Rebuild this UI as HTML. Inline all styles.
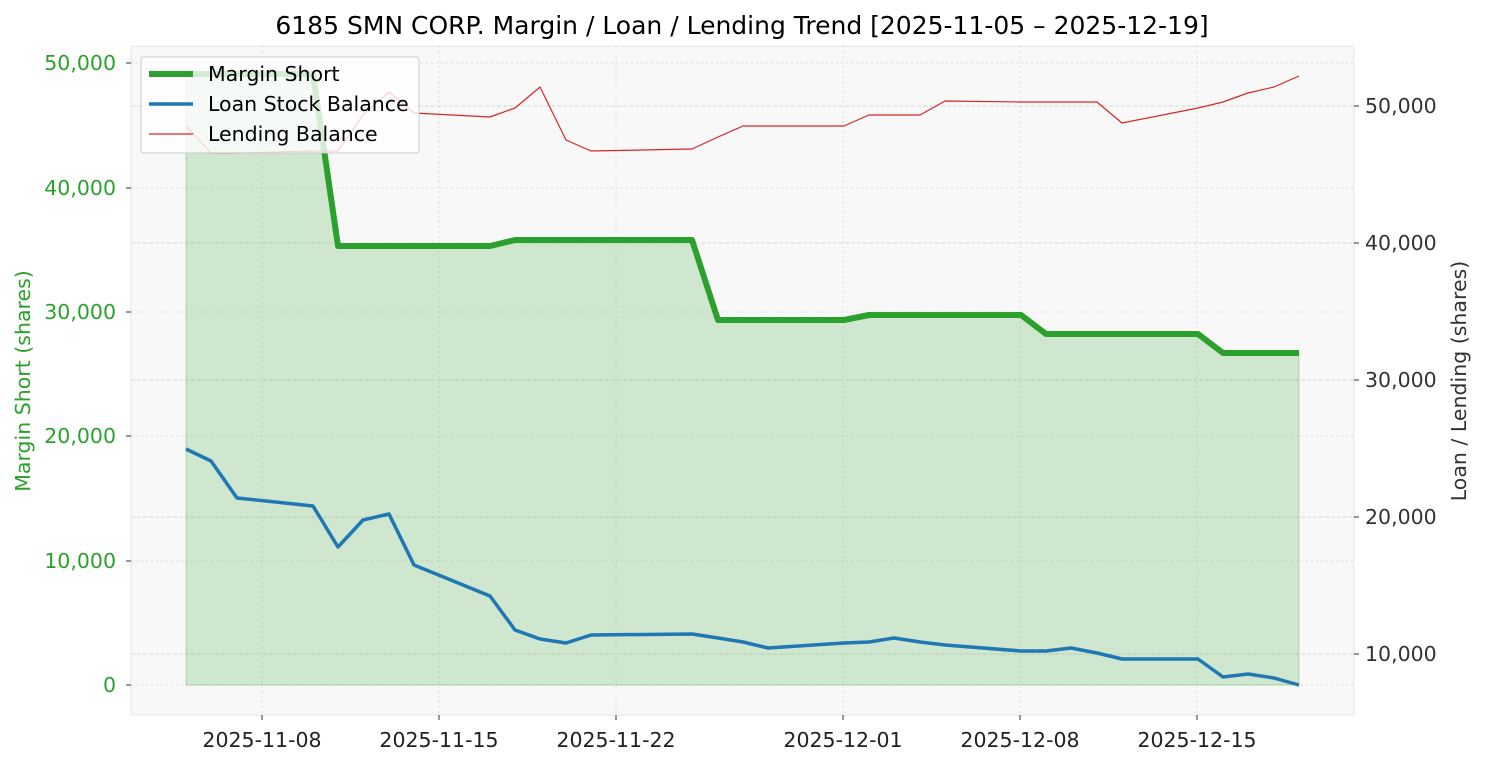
<!DOCTYPE html>
<html><head><meta charset="utf-8"><style>
body{margin:0;background:#fff;}
svg text{font-family:"DejaVu Sans","Liberation Sans",sans-serif;}
</style></head><body>
<svg width="1485" height="765" viewBox="0 0 1485 765" xmlns="http://www.w3.org/2000/svg">
<rect width="1485" height="765" fill="#fff"/>
<rect x="131" y="46" width="1223" height="669" fill="#f8f8f8" stroke="#e6e6e6" stroke-width="1"/>
<g stroke="#dddddd" stroke-width="1" stroke-dasharray="2,3">
<line x1="262" y1="46" x2="262" y2="715"/><line x1="439" y1="46" x2="439" y2="715"/><line x1="616" y1="46" x2="616" y2="715"/><line x1="843" y1="46" x2="843" y2="715"/><line x1="1020" y1="46" x2="1020" y2="715"/><line x1="1197" y1="46" x2="1197" y2="715"/>
<line x1="131" y1="685" x2="1354" y2="685"/><line x1="131" y1="561" x2="1354" y2="561"/><line x1="131" y1="436" x2="1354" y2="436"/><line x1="131" y1="312" x2="1354" y2="312"/><line x1="131" y1="188" x2="1354" y2="188"/><line x1="131" y1="63" x2="1354" y2="63"/>
</g>
<g stroke="#d8d8d8" stroke-width="1" stroke-dasharray="4,2">
<line x1="131" y1="654" x2="1354" y2="654"/><line x1="131" y1="517" x2="1354" y2="517"/><line x1="131" y1="380" x2="1354" y2="380"/><line x1="131" y1="243" x2="1354" y2="243"/><line x1="131" y1="106" x2="1354" y2="106"/>
</g>
<polygon fill="rgba(44,160,44,0.2)" stroke="rgba(44,160,44,0.3)" points="186,685 186,74 313,74 338,246 490,246 515,240 692,240 718,320 844,320 869,315 1021,315 1046,334 1198,334 1223,353 1299,353 1299,685"/>
<polyline fill="none" stroke="#2ca02c" stroke-width="6" stroke-linejoin="round" points="186,74 313,74 338,246 490,246 515,240 692,240 718,320 844,320 869,315 1021,315 1046,334 1198,334 1223,353 1299,353"/>
<polyline fill="none" stroke="#1f77b4" stroke-width="3.5" stroke-linejoin="round" points="186,449 211,461 237,498 313,506 338,547 363,520 389,514 414,565 490,596 515,630 540,639 566,643 591,635 692,634 718,638 743,642 768,648 844,643 869,642 894,638 920,642 945,645 1021,651 1046,651 1071,648 1097,653 1122,659 1198,659 1223,677 1248,674 1274,678 1299,685"/>
<polyline fill="none" stroke="#d62728" stroke-width="1.2" stroke-linejoin="round" points="186,126 211,153 237,153 313,151 338,151 363,115 389,92 414,113 490,117 515,108 540,87 566,140 591,151 692,149 718,137 743,126 768,126 844,126 869,115 894,115 920,115 945,101 1021,102 1046,102 1071,102 1097,102 1122,123 1198,108 1223,102 1248,93 1274,87 1299,76"/>
<g font-size="20.5" fill="#2ca02c" text-anchor="end">
<text x="116" y="692">0</text><text x="116" y="568">10,000</text><text x="116" y="443">20,000</text><text x="116" y="319">30,000</text><text x="116" y="195">40,000</text><text x="116" y="70">50,000</text>
</g>
<g stroke="#333" stroke-width="1"><line x1="126" y1="685" x2="131" y2="685"/><line x1="126" y1="561" x2="131" y2="561"/><line x1="126" y1="436" x2="131" y2="436"/><line x1="126" y1="312" x2="131" y2="312"/><line x1="126" y1="188" x2="131" y2="188"/><line x1="126" y1="63" x2="131" y2="63"/>
<line x1="1354" y1="654" x2="1359" y2="654"/><line x1="1354" y1="517" x2="1359" y2="517"/><line x1="1354" y1="380" x2="1359" y2="380"/><line x1="1354" y1="243" x2="1359" y2="243"/><line x1="1354" y1="106" x2="1359" y2="106"/>
<line x1="262" y1="715" x2="262" y2="720"/><line x1="439" y1="715" x2="439" y2="720"/><line x1="616" y1="715" x2="616" y2="720"/><line x1="843" y1="715" x2="843" y2="720"/><line x1="1020" y1="715" x2="1020" y2="720"/><line x1="1197" y1="715" x2="1197" y2="720"/></g>
<g font-size="20.5" fill="#333">
<text x="1365" y="661">10,000</text><text x="1365" y="524">20,000</text><text x="1365" y="387">30,000</text><text x="1365" y="250">40,000</text><text x="1365" y="113">50,000</text>
</g>
<g font-size="20.5" fill="#222" text-anchor="middle">
<text x="262" y="747">2025-11-08</text><text x="439" y="747">2025-11-15</text><text x="616" y="747">2025-11-22</text><text x="843" y="747">2025-12-01</text><text x="1020" y="747">2025-12-08</text><text x="1197" y="747">2025-12-15</text>
</g>
<text x="30" y="381" font-size="20.5" fill="#2ca02c" text-anchor="middle" transform="rotate(-90 30 381)">Margin Short (shares)</text>
<text x="1466" y="381" font-size="20.5" fill="#333" text-anchor="middle" transform="rotate(-90 1466 381)">Loan / Lending (shares)</text>
<text x="742" y="34" font-size="25" fill="#000" text-anchor="middle">6185 SMN CORP. Margin / Loan / Lending Trend [2025-11-05 – 2025-12-19]</text>
<rect x="141" y="57" width="278" height="96" rx="3" fill="rgba(255,255,255,0.8)" stroke="#cccccc"/>
<line x1="149" y1="74" x2="193" y2="74" stroke="#2ca02c" stroke-width="6"/>
<line x1="149" y1="104" x2="193" y2="104" stroke="#1f77b4" stroke-width="3.5"/>
<line x1="149" y1="134" x2="193" y2="134" stroke="#d62728" stroke-width="1.2"/>
<g font-size="20.5" fill="#000"><text x="208" y="81">Margin Short</text><text x="208" y="111">Loan Stock Balance</text><text x="208" y="141">Lending Balance</text></g>
</svg>
</body></html>
